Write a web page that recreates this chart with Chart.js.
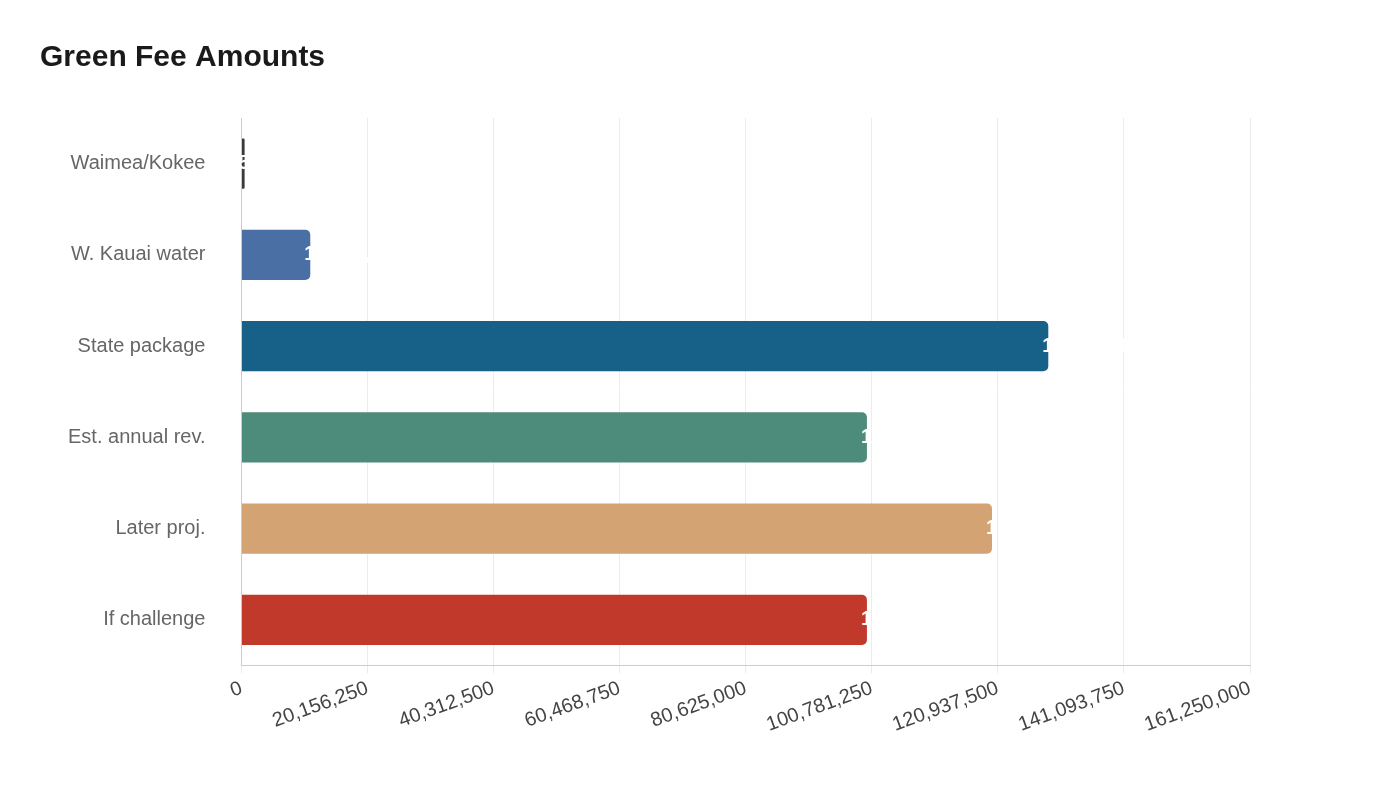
<!DOCTYPE html><html><head><meta charset="utf-8">
<script src="https://cdn.jsdelivr.net/npm/chart.js@4"></script>
<style>html,body{margin:0;background:#fff}#w{width:1400px;height:800px}</style></head><body><div id="w"><canvas id="c"></canvas></div>
<script>
const categories=["Waimea/Kokee","W. Kauai water","State package","Est. annual rev.","Later proj.","If challenge"];
const values=[500000,11000000,129000000,100000000,120000000,100000000];
const colors=["#3a3a3a","#4a6fa5","#176087","#4d8b7a","#d4a373","#c0392b"];
const endLabels=plugin={id:'endLabels',afterDatasetsDraw(ch){const ctx=ch.ctx;const m=ch.getDatasetMeta(0);ctx.save();ctx.fillStyle='#fff';ctx.font='bold 20px Liberation Sans, Arial';ctx.textBaseline='middle';m.data.forEach((b,i)=>{ctx.fillText(values[i].toLocaleString('en-US'),b.x-6,b.y);});ctx.restore();}};
new Chart(document.getElementById('c'),{type:'bar',data:{labels:categories,datasets:[{data:values,backgroundColor:colors,borderRadius:5,borderSkipped:'start',barPercentage:0.55,categoryPercentage:1}]},
options:{indexAxis:'y',responsive:true,maintainAspectRatio:false,animation:false,
layout:{padding:{left:40,right:150,top:40,bottom:60}},
plugins:{legend:{display:false},tooltip:{enabled:false},title:{display:true,text:'Green Fee Amounts',align:'start',color:'#1a1a1a',font:{family:'Liberation Sans, Arial',size:30,weight:'bold'},padding:{top:0,bottom:42}}},
scales:{x:{min:0,max:161250000,ticks:{stepSize:20000000,maxRotation:20,minRotation:20,color:'#444',font:{family:'Liberation Sans, Arial',size:20},callback:v=>v.toLocaleString('en-US')},grid:{color:'#ececec'},border:{color:'#ccc'}},
y:{grid:{display:false},border:{color:'#ccc'},ticks:{color:'#666',padding:28,font:{family:'Liberation Sans, Arial',size:20}}}}},plugins:[endLabels]});
</script></body></html>
